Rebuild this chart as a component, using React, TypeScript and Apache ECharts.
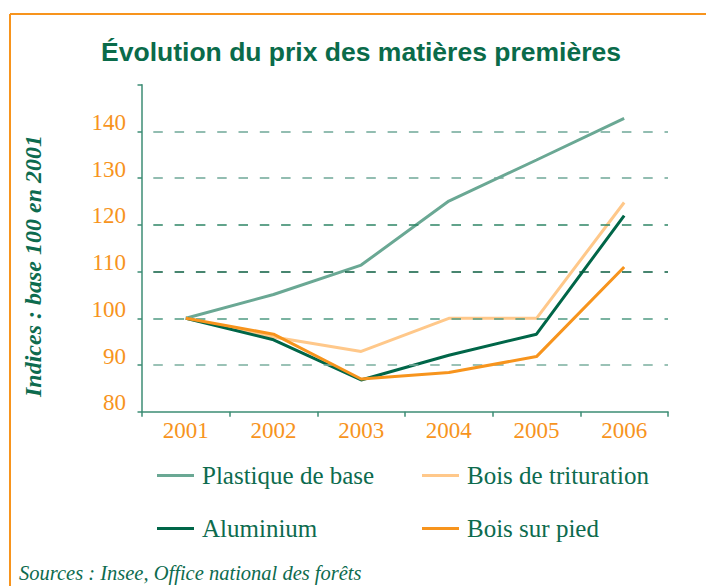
import React, { useEffect, useRef } from "react";
import * as echarts from "echarts";

const years = ["2001", "2002", "2003", "2004", "2005", "2006"];
const plastique = [100, 105.1, 111.4, 125.1, 133.9, 142.8];
const trituration = [100, 96.0, 92.9, 100, 100, 124.8];
const aluminium = [100, 95.4, 86.8, 92.1, 96.6, 122.0];
const boisSurPied = [100, 96.6, 87.0, 88.4, 91.8, 111.0];
const gridValues = [90, 100, 110, 120, 130, 140];
const gridColors = ["#7aae9e", "#4f9a82", "#0b5e40", "#2e8566", "#6fa898", "#6fa898"];

const names = ["Plastique de base", "Bois de trituration", "Aluminium", "Bois sur pied"];
const colors = ["#6aa894", "#ffc88a", "#006648", "#f7941d"];

const DARK = "#0d6b4e";
const ORANGE = "#f7941d";
const AXIS = "#3c8d74";

export default function App() {
  const ref = useRef<HTMLDivElement>(null);
  useEffect(() => {
    document.body.style.margin = "0";
    const chart = echarts.init(ref.current!, null, { renderer: "svg" });
    const serif = "Liberation Serif";
    const legendPos = [
      { left: 157, top: 463 },
      { left: 422, top: 463 },
      { left: 157, top: 516 },
      { left: 422, top: 516 },
    ];
    const seriesData = [plastique, trituration, aluminium, boisSurPied];
    chart.setOption({
      animation: false,
      textStyle: { fontFamily: serif },
      grid: { left: 142, right: 38, top: 84.8, bottom: 174.3 },
      graphic: [
        { type: "line", shape: { x1: 10, y1: 14, x2: 706, y2: 14 }, style: { stroke: ORANGE, lineWidth: 2 } },
        { type: "line", shape: { x1: 10, y1: 14, x2: 10, y2: 586 }, style: { stroke: ORANGE, lineWidth: 2 } },
        {
          type: "text",
          x: 361,
          y: 52,
          style: {
            text: "Évolution du prix des matières premières",
            font: "bold 26.5px 'Liberation Sans', Arial, sans-serif",
            fill: "#0a6b4a",
            align: "center",
            verticalAlign: "middle",
          },
        },
        {
          type: "text",
          x: 33,
          y: 266,
          rotation: Math.PI / 2,
          style: {
            text: "Indices : base 100 en 2001",
            font: "italic bold 24px 'Liberation Serif', serif",
            fill: DARK,
            align: "center",
            verticalAlign: "middle",
          },
        },
        {
          type: "text",
          x: 19,
          y: 573,
          style: {
            text: "Sources : Insee, Office national des forêts",
            font: "italic 20.5px 'Liberation Serif', serif",
            fill: DARK,
            align: "left",
            verticalAlign: "middle",
          },
        },
      ],
      legend: names.map((n, i) => ({
        data: [n],
        left: legendPos[i].left,
        top: legendPos[i].top,
        padding: 0,
        icon: "rect",
        itemWidth: 37,
        itemHeight: 3,
        selectedMode: false,
        textStyle: { fontFamily: serif, fontSize: 25, color: DARK, padding: [0, 0, 0, 3] },
      })),
      xAxis: {
        type: "category",
        data: years,
        boundaryGap: true,
        axisLine: { lineStyle: { color: AXIS, width: 1.5 } },
        axisTick: { show: true, length: 5, lineStyle: { color: AXIS, width: 1.5 } },
        axisLabel: { color: ORANGE, fontFamily: serif, fontSize: 23, margin: 7 },
        splitLine: { show: false },
      },
      yAxis: {
        type: "value",
        min: 80,
        max: 150,
        interval: 10,
        axisLine: { show: true, lineStyle: { color: AXIS, width: 1.5 } },
        axisTick: { show: true, length: 4.5, lineStyle: { color: AXIS, width: 1.5 } },
        axisLabel: {
          color: ORANGE,
          fontFamily: serif,
          fontSize: 23,
          margin: 16,
          verticalAlign: "bottom",
          lineHeight: 18,
          formatter: (v: number) => (v === 150 ? "" : String(v)),
        },
        splitLine: { show: false },
      },
      series: [
        {
          name: "grid",
          type: "line",
          data: [],
          z: 1,
          silent: true,
          markLine: {
            silent: true,
            symbol: "none",
            label: { show: false },
            data: gridValues.map((v, i) => ({
              yAxis: v,
              lineStyle: { color: gridColors[i], width: 1.6, type: [9.5, 11.8], dashOffset: 9.5 },
            })),
          },
        },
        ...names.map((n, i) => ({
          name: n,
          type: "line",
          data: seriesData[i],
          z: 2 + i,
          symbol: "none",
          showSymbol: false,
          color: colors[i],
          lineStyle: { color: colors[i], width: 3 },
        })),
      ],
    });
    return () => chart.dispose();
  }, []);
  return (
    <div
      ref={ref}
      style={{ position: "fixed", left: 0, top: 0, width: 706, height: 586, background: "#fff" }}
    />
  );
}
